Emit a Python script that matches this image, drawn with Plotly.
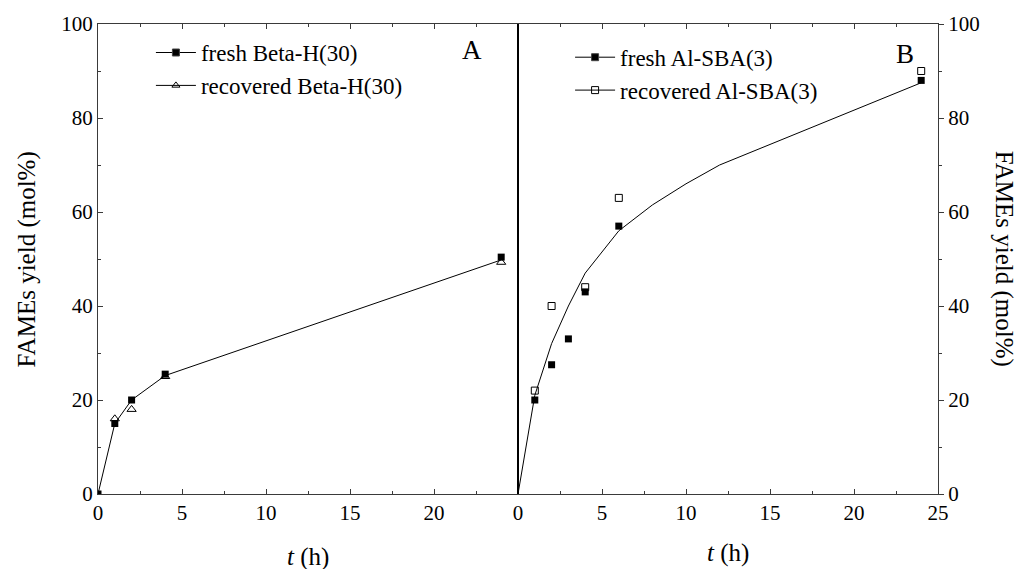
import plotly.graph_objects as go

# Panel A: Beta-H(30)
t_a_fresh = [0, 1, 2, 4, 24]
y_a_fresh = [0, 15, 20, 25.5, 50.4]
t_a_rec = [1, 2, 4, 24]
y_a_rec = [16, 18, 25, 49.3]
t_a_fit = [0, 1, 2, 4, 24]
y_a_fit = [0, 15, 20, 25.2, 49.8]

# Panel B: Al-SBA(3)
t_b_fresh = [1, 2, 3, 4, 6, 24]
y_b_fresh = [20, 27.5, 33, 43, 57, 88]
t_b_rec = [1, 2, 4, 6, 24]
y_b_rec = [22, 40, 44, 63, 90]
t_b_fit = [0, 1, 2, 3, 4, 6, 8, 10, 12, 24]
y_b_fit = [0, 21, 32, 40, 47, 56, 61.5, 66, 70, 87.5]

x_ticks_a = [0, 5, 10, 15, 20]
x_ticks_b = [0, 5, 10, 15, 20, 25]
y_ticks = [0, 20, 40, 60, 80, 100]

FONT = "Liberation Serif, Times New Roman, Times, serif"
INK = "#000000"
FRAME = "#3a3a3a"

fig = go.Figure()

# fitted curves
fig.add_trace(go.Scatter(x=t_a_fit, y=y_a_fit, mode="lines", line=dict(color=INK, width=1),
                         showlegend=False, xaxis="x", yaxis="y"))
fig.add_trace(go.Scatter(x=t_b_fit, y=y_b_fit, mode="lines", line=dict(color=INK, width=1),
                         showlegend=False, xaxis="x2", yaxis="y2"))

# measured points
fig.add_trace(go.Scatter(x=t_a_fresh, y=y_a_fresh, mode="markers",
                         marker=dict(symbol="square", size=7, color=INK),
                         showlegend=False, xaxis="x", yaxis="y"))
fig.add_trace(go.Scatter(x=t_a_rec, y=y_a_rec, mode="markers",
                         marker=dict(symbol="triangle-up-open", size=8, color=INK, line=dict(width=1)),
                         showlegend=False, xaxis="x", yaxis="y"))
fig.add_trace(go.Scatter(x=t_b_fresh, y=y_b_fresh, mode="markers",
                         marker=dict(symbol="square", size=7, color=INK),
                         showlegend=False, xaxis="x2", yaxis="y2"))
fig.add_trace(go.Scatter(x=t_b_rec, y=y_b_rec, mode="markers",
                         marker=dict(symbol="square-open", size=7, color=INK, line=dict(width=1)),
                         showlegend=False, xaxis="x2", yaxis="y2"))

# legend entries (line + symbol)
def legend_entry(name, symbol, legend):
    fig.add_trace(go.Scatter(x=[None], y=[None], mode="lines+markers", name=name,
                             line=dict(color=INK, width=1),
                             marker=dict(symbol=symbol, size=7, color=INK, line=dict(width=1)),
                             legend=legend, xaxis="x", yaxis="y"))

legend_entry("fresh Beta-H(30)", "square", "legend")
legend_entry("recovered Beta-H(30)", "triangle-up-open", "legend")
legend_entry("fresh Al-SBA(3)", "square", "legend2")
legend_entry("recovered Al-SBA(3)", "square-open", "legend2")

tickfont = dict(family=FONT, size=21, color=INK)
common_x = dict(range=[0, 25], showline=True, linecolor=FRAME, linewidth=1.2, mirror="allticks",
                ticks="inside", ticklen=5, tickcolor=FRAME, tickfont=tickfont,
                minor=dict(dtick=2.5, ticks="inside", ticklen=3, tickcolor=FRAME),
                showgrid=False, zeroline=False, tickmode="array")

def label(text, x, y, size, angle=0):
    return dict(text=text, x=x, y=y, xref="paper", yref="paper", showarrow=False,
                xanchor="center", yanchor="middle", textangle=angle,
                font=dict(family=FONT, size=size, color=INK))

fig.update_layout(
    width=1020, height=569,
    margin=dict(l=98, r=82, t=24, b=75),
    paper_bgcolor="white", plot_bgcolor="white",
    font=dict(family=FONT, color=INK),
    xaxis=dict(domain=[0, 0.5], anchor="y", tickvals=x_ticks_a, **common_x),
    xaxis2=dict(domain=[0.5, 1.0], anchor="y2", tickvals=x_ticks_b, **common_x),
    yaxis=dict(domain=[0, 1], anchor="x", range=[0, 100], side="left",
               showline=True, linecolor=FRAME, linewidth=1.2,
               ticks="inside", ticklen=5, tickcolor=FRAME, tickvals=y_ticks, tickfont=tickfont,
               minor=dict(dtick=10, ticks="inside", ticklen=3, tickcolor=FRAME),
               showgrid=False, zeroline=False),
    yaxis2=dict(domain=[0, 1], anchor="x2", range=[0, 100], side="right",
                showline=True, linecolor=FRAME, linewidth=1.2,
                ticks="outside", ticklen=5, tickcolor=FRAME, tickvals=y_ticks, tickfont=tickfont,
                minor=dict(dtick=10, ticks="outside", ticklen=3, tickcolor=FRAME),
                showgrid=False, zeroline=False),
    legend=dict(x=0.063, y=0.985, xanchor="left", yanchor="top", bgcolor="rgba(0,0,0,0)",
                font=dict(family=FONT, size=23, color=INK), tracegroupgap=0, itemwidth=40),
    legend2=dict(x=0.562, y=0.975, xanchor="left", yanchor="top", bgcolor="rgba(0,0,0,0)",
                 font=dict(family=FONT, size=23, color=INK), tracegroupgap=0, itemwidth=40),
    shapes=[dict(type="line", xref="paper", yref="paper", x0=0.5, x1=0.5, y0=0, y1=1,
                 line=dict(color=INK, width=2))],
    annotations=[
        label("A", 0.445, 0.945, 27),
        label("B", 0.961, 0.937, 27),
        label("FAMEs yield (mol%)", -0.084, 0.5, 25, -90),
        label("FAMEs yield (mol%)", 1.079, 0.5, 25, 90),
        label("<i>t</i> (h)", 0.25, -0.134, 25),
        label("<i>t</i> (h)", 0.75, -0.125, 25),
    ],
)

fig.write_html("out.html")
